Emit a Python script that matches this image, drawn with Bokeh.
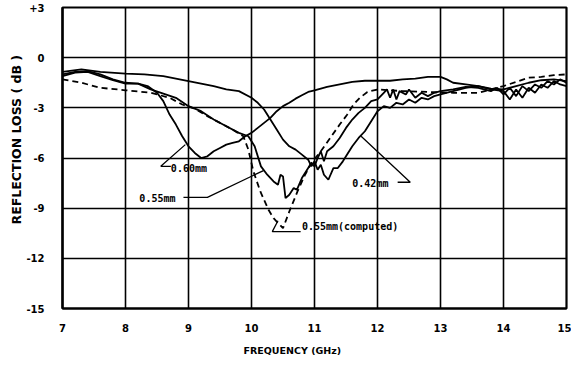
from bokeh.plotting import figure
from bokeh.models import Range1d, FixedTicker, Label, Title
from bokeh.embed import file_html
from bokeh.resources import INLINE

# ---- data ----
freq_060 = [7.0, 7.2, 7.4, 7.6, 7.8, 8.0, 8.2, 8.35, 8.5, 8.6, 8.7, 8.8, 8.9, 9.0, 9.1, 9.2, 9.3, 9.4,
            9.5, 9.6, 9.7, 9.8, 9.9, 10.0, 10.1, 10.2, 10.3, 10.4, 10.5, 10.6, 10.7, 10.8, 10.9, 11.0,
            11.2, 11.4, 11.6, 11.8, 12.0, 12.2, 12.4, 12.6, 12.8, 13.0, 13.1, 13.2, 13.4, 13.6, 13.8,
            14.0, 14.2, 14.4, 14.6, 14.8, 15.0]
loss_060 = [-1.0, -0.85, -0.8, -1.0, -1.3, -1.5, -1.55, -1.7, -2.1, -2.6, -3.4, -4.0, -4.7, -5.3, -5.7,
            -6.0, -5.9, -5.6, -5.4, -5.2, -5.1, -5.0, -4.7, -4.5, -4.2, -3.9, -3.6, -3.2, -2.9, -2.7,
            -2.45, -2.25, -2.05, -1.95, -1.75, -1.6, -1.45, -1.38, -1.38, -1.38, -1.3, -1.25, -1.15,
            -1.15, -1.3, -1.5, -1.6, -1.7, -1.85, -1.9, -1.7, -1.5, -1.35, -1.3, -1.4]

freq_055 = [7.0, 7.2, 7.4, 7.6, 7.8, 8.0, 8.2, 8.4, 8.6, 8.8, 9.0, 9.2, 9.4, 9.6, 9.8, 9.95, 10.05,
            10.15, 10.25, 10.35, 10.42, 10.46, 10.5, 10.54, 10.6, 10.67, 10.72, 10.8, 10.9, 10.95,
            11.0, 11.05, 11.1, 11.15, 11.2, 11.3, 11.4, 11.5, 11.6, 11.7, 11.8, 11.9, 12.0, 12.1,
            12.15, 12.2, 12.25, 12.3, 12.35, 12.45, 12.5, 12.6, 12.7, 12.8, 12.9, 13.0, 13.2, 13.4,
            13.6, 13.8, 13.9, 14.0, 14.1, 14.2, 14.3, 14.4, 14.5, 14.6, 14.7, 14.8, 14.9, 15.0]
loss_055 = [-1.1, -0.9, -0.85, -1.1, -1.35, -1.55, -1.55, -1.9, -2.15, -2.4, -2.9, -3.2, -3.7, -4.1,
            -4.5, -4.7, -5.3, -6.5, -7.0, -7.4, -7.6, -7.0, -7.1, -8.4, -8.2, -7.8, -7.9, -7.2, -6.6,
            -6.3, -6.5, -6.0, -5.6, -6.2, -5.6, -5.3, -4.8, -4.2, -3.7, -3.3, -3.0, -2.6, -2.5, -2.1,
            -1.9, -2.4, -1.9, -2.5, -2.0, -2.2, -1.9, -2.4, -2.1, -2.3, -2.1, -2.0, -1.9, -1.75, -1.8,
            -2.0, -1.8, -2.2, -1.8, -2.3, -1.7, -2.0, -1.6, -1.8, -1.4, -1.6, -1.3, -1.5]

freq_042 = [7.0, 7.3, 7.6, 8.0, 8.3, 8.6, 9.0, 9.2, 9.4, 9.6, 9.8, 10.0, 10.1, 10.2, 10.3, 10.4, 10.5,
            10.6, 10.7, 10.8, 10.9, 10.95, 11.0, 11.05, 11.1, 11.15, 11.22, 11.3, 11.37, 11.45, 11.5,
            11.6, 11.7, 11.8, 11.9, 12.0, 12.1, 12.2, 12.3, 12.4, 12.5, 12.6, 12.7, 12.8, 12.9, 13.0,
            13.2, 13.4, 13.6, 13.8, 14.0, 14.1, 14.2, 14.3, 14.4, 14.5, 14.6, 14.7, 14.8, 14.9, 15.0]
loss_042 = [-0.85, -0.7, -0.85, -0.95, -1.0, -1.1, -1.4, -1.55, -1.7, -1.9, -2.0, -2.4, -2.7, -3.1,
            -3.7, -4.3, -4.9, -5.3, -5.5, -5.8, -6.1, -6.5, -6.2, -6.7, -6.4, -7.0, -7.3, -6.6, -6.6,
            -6.2, -5.9, -5.3, -4.8, -4.4, -3.8, -3.2, -2.9, -3.0, -2.7, -2.8, -2.5, -2.7, -2.4, -2.5,
            -2.3, -2.2, -2.0, -1.8, -1.7, -1.9, -2.0, -2.5, -1.9, -2.4, -1.8, -2.1, -1.6, -1.8, -1.4,
            -1.6, -1.7]

freq_calc = [7.0, 7.3, 7.6, 8.0, 8.4, 8.7, 8.9, 9.1, 9.3, 9.5, 9.7, 9.87, 9.95, 10.03, 10.14, 10.27,
             10.35, 10.5, 10.6, 10.73, 10.85, 10.95, 11.1, 11.25, 11.4, 11.52, 11.62, 11.72, 11.84,
             12.0, 12.4, 12.8, 13.2, 13.6, 13.8, 14.0, 14.2, 14.4, 14.6, 14.8, 15.0]
loss_calc = [-1.3, -1.5, -1.8, -1.95, -2.1, -2.4, -2.8, -3.05, -3.5, -3.9, -4.3, -4.7, -5.5, -6.8,
             -8.0, -9.1, -9.6, -10.2, -9.2, -8.0, -7.0, -6.3, -5.6, -4.8, -4.0, -3.4, -2.8, -2.4,
             -2.05, -1.9, -2.0, -2.05, -2.1, -2.1, -1.9, -1.7, -1.45, -1.2, -1.15, -1.05, -1.0]

x_ticks = [7, 8, 9, 10, 11, 12, 13, 14, 15]
y_ticks = [-15, -12, -9, -6, -3, 0, 3]
y_tick_labels = {3: "+3", 0: "0", -3: "-3", -6: "-6", -9: "-9", -12: "-12", -15: "-15"}

# annotation labels and leader lines (label text, text anchor, leader polyline)
labels = ["0.60mm", "0.55mm", "0.42mm", "0.55mm(computed)"]
label_pos = [(8.72, -6.6), (8.22, -8.45), (11.6, -7.5), (10.8, -10.1)]
leaders = [
    ([8.95, 8.56, 8.72], [-5.2, -6.5, -6.5]),
    ([10.19, 9.3, 8.92], [-6.75, -8.35, -8.35]),
    ([11.74, 12.52, 12.32], [-4.7, -7.45, -7.45]),
    ([10.42, 10.33, 10.78], [-9.75, -10.4, -10.4]),
]

FONT = "DejaVu Sans"
MONO = "DejaVu Sans Mono"

p = figure(width=571, height=364, output_backend="svg", toolbar_location=None,
           x_range=Range1d(7, 15), y_range=Range1d(-15, 3),
           min_border_left=62, min_border_right=5, min_border_top=7, min_border_bottom=53)
p.outline_line_color = "black"
p.outline_line_width = 2.2
p.background_fill_color = "white"
p.border_fill_color = "white"

for ax in (p.xaxis[0], p.yaxis[0]):
    ax.axis_line_width = 2.2
    ax.axis_line_color = "black"
    ax.major_tick_line_color = None
    ax.minor_tick_line_color = None
    ax.major_label_text_font = FONT
    ax.major_label_text_font_style = "bold"
    ax.major_label_text_font_size = "10px"
    ax.major_label_text_color = "black"

p.xaxis.ticker = FixedTicker(ticks=x_ticks)
p.yaxis.ticker = FixedTicker(ticks=y_ticks)
p.yaxis.major_label_overrides = y_tick_labels
p.xaxis.major_label_standoff = 9
p.yaxis.major_label_standoff = 12

p.xgrid.ticker = FixedTicker(ticks=x_ticks)
p.ygrid.ticker = FixedTicker(ticks=y_ticks)
for g in (p.xgrid[0], p.ygrid[0]):
    g.grid_line_color = "black"
    g.grid_line_width = 1.6
    g.grid_line_alpha = 1.0

lw = 1.8
p.line(freq_060, loss_060, line_color="black", line_width=lw)
p.line(freq_055, loss_055, line_color="black", line_width=lw)
p.line(freq_042, loss_042, line_color="black", line_width=lw)
p.line(freq_calc, loss_calc, line_color="black", line_width=lw, line_dash="6 4")

for txt, (lx, ly), (xs, ys) in zip(labels, label_pos, leaders):
    p.line(xs, ys, line_color="black", line_width=1.3)
    p.add_layout(Label(x=lx, y=ly, text=txt, text_font=MONO, text_font_style="bold",
                       text_font_size="10px", text_baseline="middle", text_align="left",
                       text_color="black"))

p.add_layout(Title(text="FREQUENCY  (GHz)", text_font=FONT, text_font_style="bold",
                   text_font_size="9.5px", align="left", offset=181, standoff=17,
                   text_color="black"), "below")
p.add_layout(Title(text="REFLECTION LOSS  ( dB )", text_font=FONT, text_font_style="bold",
                   text_font_size="12.5px", align="left", offset=84, standoff=0,
                   text_color="black"), "left")

open("out.html", "w").write(file_html(p, INLINE))
